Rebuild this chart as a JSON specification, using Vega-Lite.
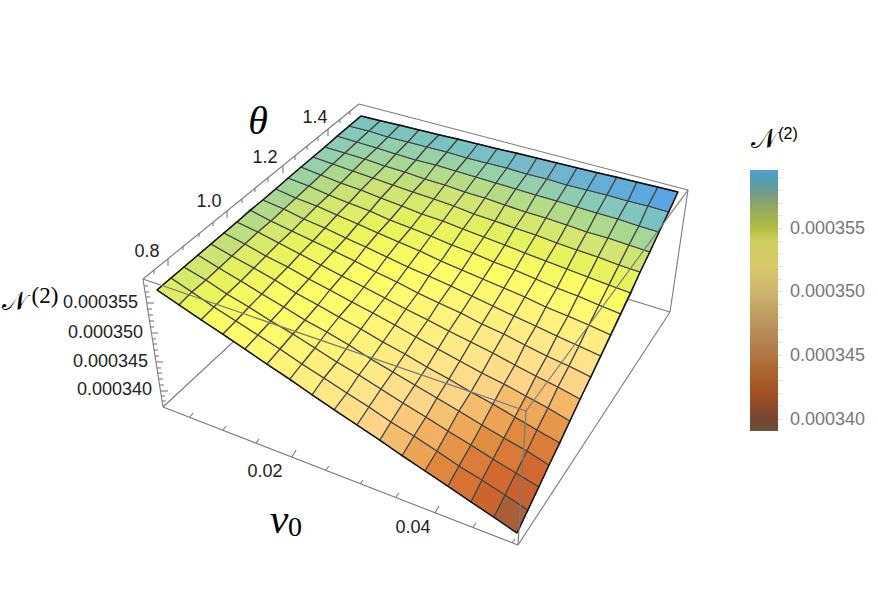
{"$schema":"https://vega.github.io/schema/vega-lite/v6.json","width":878,"height":589,"padding":0,"autosize":"none","background":"white","projection":{"type":"identity","scale":1,"translate":[0,0]},"resolve":{"scale":{"color":"independent"}},"encoding":{},"layer":[
{"data":{"values":[{"a":359,"b":104,"c":143,"d":279},{"a":359,"b":104,"c":688,"d":190},{"a":143,"b":279,"c":163,"d":407},{"a":688,"b":190,"c":670,"d":312},{"a":163,"b":407,"c":518,"d":545},{"a":518,"b":545,"c":670,"d":312},{"a":163,"b":407,"c":366,"d":219},{"a":670,"b":312,"c":366,"d":219},
{"a":154,"b":270,"c":154,"d":274},{"a":168,"b":259,"c":168,"d":266},{"a":183,"b":246,"c":183,"d":250},{"a":199,"b":233,"c":199,"d":237},{"a":213,"b":222,"c":213,"d":226},{"a":227,"b":211,"c":227,"d":218},{"a":242,"b":199,"c":242,"d":203},{"a":255,"b":188,"c":255,"d":192},{"a":268,"b":178,"c":268,"d":182},{"a":283,"b":166,"c":283,"d":173},{"a":295,"b":156,"c":295,"d":160},{"a":307,"b":146,"c":307,"d":150},{"a":318,"b":137,"c":318,"d":141},{"a":328,"b":129,"c":328,"d":136},{"a":340,"b":119,"c":340,"d":123},{"a":350,"b":111,"c":350,"d":115},
{"a":144,"b":286,"c":148,"d":286},{"a":145,"b":292,"c":149,"d":292},{"a":146,"b":297,"c":150,"d":297},{"a":147,"b":303,"c":154,"d":303},{"a":148,"b":309,"c":152,"d":309},{"a":149,"b":315,"c":153,"d":315},{"a":150,"b":321,"c":154,"d":321},{"a":150,"b":327,"c":154,"d":327},{"a":151,"b":333,"c":158,"d":333},{"a":152,"b":339,"c":156,"d":339},{"a":153,"b":344,"c":157,"d":344},{"a":154,"b":350,"c":158,"d":350},{"a":155,"b":356,"c":159,"d":356},{"a":156,"b":362,"c":163,"d":362},{"a":157,"b":368,"c":161,"d":368},{"a":158,"b":373,"c":162,"d":373},{"a":159,"b":379,"c":163,"d":379},{"a":160,"b":385,"c":164,"d":385},{"a":161,"b":391,"c":168,"d":391},{"a":161,"b":396,"c":165,"d":396},{"a":162,"b":401,"c":166,"d":401},
{"a":190,"b":417,"c":193,"d":413},{"a":223,"b":430,"c":226,"d":426},{"a":256,"b":443,"c":259,"d":439},{"a":292,"b":457,"c":296,"d":450},{"a":326,"b":470,"c":329,"d":466},{"a":360,"b":484,"c":363,"d":480},{"a":396,"b":497,"c":399,"d":493},{"a":435,"b":513,"c":439,"d":506},{"a":473,"b":527,"c":476,"d":523},{"a":512,"b":543,"c":515,"d":539}]},"mark":{"type":"rule","color":"#7a7a7a","strokeWidth":1.1},"encoding":{"longitude":{"field":"a","type":"quantitative"},"latitude":{"field":"b","type":"quantitative"},"longitude2":{"field":"c"},"latitude2":{"field":"d"}}},
{"data":{"values":[
{"v":0.0003545,"g":{"type":"Polygon","coordinates":[[[157,290],[179,305],[192,292],[171,278],[157,290]]]}},
{"v":0.0003535,"g":{"type":"Polygon","coordinates":[[[179,305],[201,320],[214,307],[192,292],[179,305]]]}},
{"v":0.0003528,"g":{"type":"Polygon","coordinates":[[[201,320],[223,334],[236,321],[214,307],[201,320]]]}},
{"v":0.0003523,"g":{"type":"Polygon","coordinates":[[[223,334],[245,349],[258,335],[236,321],[223,334]]]}},
{"v":0.0003518,"g":{"type":"Polygon","coordinates":[[[245,349],[267,364],[280,349],[258,335],[245,349]]]}},
{"v":0.0003512,"g":{"type":"Polygon","coordinates":[[[267,364],[290,379],[302,364],[280,349],[267,364]]]}},
{"v":0.0003505,"g":{"type":"Polygon","coordinates":[[[290,379],[312,395],[324,378],[302,364],[290,379]]]}},
{"v":0.0003498,"g":{"type":"Polygon","coordinates":[[[312,395],[334,410],[347,393],[324,378],[312,395]]]}},
{"v":0.000349,"g":{"type":"Polygon","coordinates":[[[334,410],[357,425],[369,407],[347,393],[334,410]]]}},
{"v":0.000348,"g":{"type":"Polygon","coordinates":[[[357,425],[380,440],[391,422],[369,407],[357,425]]]}},
{"v":0.000347,"g":{"type":"Polygon","coordinates":[[[380,440],[402,456],[414,436],[391,422],[380,440]]]}},
{"v":0.000346,"g":{"type":"Polygon","coordinates":[[[402,456],[425,471],[437,451],[414,436],[402,456]]]}},
{"v":0.0003448,"g":{"type":"Polygon","coordinates":[[[425,471],[448,486],[459,466],[437,451],[425,471]]]}},
{"v":0.0003435,"g":{"type":"Polygon","coordinates":[[[448,486],[471,502],[482,480],[459,466],[448,486]]]}},
{"v":0.000342,"g":{"type":"Polygon","coordinates":[[[471,502],[494,517],[505,495],[482,480],[471,502]]]}},
{"v":0.0003402,"g":{"type":"Polygon","coordinates":[[[494,517],[517,533],[528,510],[505,495],[494,517]]]}},
{"v":0.0003548,"g":{"type":"Polygon","coordinates":[[[171,278],[192,292],[206,280],[184,267],[171,278]]]}},
{"v":0.0003538,"g":{"type":"Polygon","coordinates":[[[192,292],[214,307],[227,294],[206,280],[192,292]]]}},
{"v":0.000353,"g":{"type":"Polygon","coordinates":[[[214,307],[236,321],[249,307],[227,294],[214,307]]]}},
{"v":0.0003525,"g":{"type":"Polygon","coordinates":[[[236,321],[258,335],[271,321],[249,307],[236,321]]]}},
{"v":0.000352,"g":{"type":"Polygon","coordinates":[[[258,335],[280,349],[293,334],[271,321],[258,335]]]}},
{"v":0.0003515,"g":{"type":"Polygon","coordinates":[[[280,349],[302,364],[315,348],[293,334],[280,349]]]}},
{"v":0.0003508,"g":{"type":"Polygon","coordinates":[[[302,364],[324,378],[337,362],[315,348],[302,364]]]}},
{"v":0.0003502,"g":{"type":"Polygon","coordinates":[[[324,378],[347,393],[359,375],[337,362],[324,378]]]}},
{"v":0.0003494,"g":{"type":"Polygon","coordinates":[[[347,393],[369,407],[381,389],[359,375],[347,393]]]}},
{"v":0.0003485,"g":{"type":"Polygon","coordinates":[[[369,407],[391,422],[403,403],[381,389],[369,407]]]}},
{"v":0.0003475,"g":{"type":"Polygon","coordinates":[[[391,422],[414,436],[426,417],[403,403],[391,422]]]}},
{"v":0.0003465,"g":{"type":"Polygon","coordinates":[[[414,436],[437,451],[448,431],[426,417],[414,436]]]}},
{"v":0.0003454,"g":{"type":"Polygon","coordinates":[[[437,451],[459,466],[471,445],[448,431],[437,451]]]}},
{"v":0.0003442,"g":{"type":"Polygon","coordinates":[[[459,466],[482,480],[493,459],[471,445],[459,466]]]}},
{"v":0.0003428,"g":{"type":"Polygon","coordinates":[[[482,480],[505,495],[516,473],[493,459],[482,480]]]}},
{"v":0.0003413,"g":{"type":"Polygon","coordinates":[[[505,495],[528,510],[539,487],[516,473],[505,495]]]}},
{"v":0.0003551,"g":{"type":"Polygon","coordinates":[[[184,267],[206,280],[219,268],[198,255],[184,267]]]}},
{"v":0.000354,"g":{"type":"Polygon","coordinates":[[[206,280],[227,294],[241,281],[219,268],[206,280]]]}},
{"v":0.0003532,"g":{"type":"Polygon","coordinates":[[[227,294],[249,307],[262,294],[241,281],[227,294]]]}},
{"v":0.0003527,"g":{"type":"Polygon","coordinates":[[[249,307],[271,321],[284,307],[262,294],[249,307]]]}},
{"v":0.0003522,"g":{"type":"Polygon","coordinates":[[[271,321],[293,334],[305,320],[284,307],[271,321]]]}},
{"v":0.0003518,"g":{"type":"Polygon","coordinates":[[[293,334],[315,348],[327,332],[305,320],[293,334]]]}},
{"v":0.0003512,"g":{"type":"Polygon","coordinates":[[[315,348],[337,362],[349,345],[327,332],[315,348]]]}},
{"v":0.0003506,"g":{"type":"Polygon","coordinates":[[[337,362],[359,375],[371,359],[349,345],[337,362]]]}},
{"v":0.0003499,"g":{"type":"Polygon","coordinates":[[[359,375],[381,389],[393,372],[371,359],[359,375]]]}},
{"v":0.000349,"g":{"type":"Polygon","coordinates":[[[381,389],[403,403],[415,385],[393,372],[381,389]]]}},
{"v":0.0003481,"g":{"type":"Polygon","coordinates":[[[403,403],[426,417],[437,398],[415,385],[403,403]]]}},
{"v":0.0003472,"g":{"type":"Polygon","coordinates":[[[426,417],[448,431],[459,411],[437,398],[426,417]]]}},
{"v":0.0003462,"g":{"type":"Polygon","coordinates":[[[448,431],[471,445],[482,425],[459,411],[448,431]]]}},
{"v":0.0003451,"g":{"type":"Polygon","coordinates":[[[471,445],[493,459],[504,438],[482,425],[471,445]]]}},
{"v":0.000344,"g":{"type":"Polygon","coordinates":[[[493,459],[516,473],[527,451],[504,438],[493,459]]]}},
{"v":0.0003428,"g":{"type":"Polygon","coordinates":[[[516,473],[539,487],[549,465],[527,451],[516,473]]]}},
{"v":0.0003554,"g":{"type":"Polygon","coordinates":[[[198,255],[219,268],[232,256],[211,244],[198,255]]]}},
{"v":0.0003543,"g":{"type":"Polygon","coordinates":[[[219,268],[241,281],[254,268],[232,256],[219,268]]]}},
{"v":0.0003534,"g":{"type":"Polygon","coordinates":[[[241,281],[262,294],[275,280],[254,268],[241,281]]]}},
{"v":0.0003529,"g":{"type":"Polygon","coordinates":[[[262,294],[284,307],[296,293],[275,280],[262,294]]]}},
{"v":0.0003524,"g":{"type":"Polygon","coordinates":[[[284,307],[305,320],[318,305],[296,293],[284,307]]]}},
{"v":0.000352,"g":{"type":"Polygon","coordinates":[[[305,320],[327,332],[339,317],[318,305],[305,320]]]}},
{"v":0.0003515,"g":{"type":"Polygon","coordinates":[[[327,332],[349,345],[361,329],[339,317],[327,332]]]}},
{"v":0.000351,"g":{"type":"Polygon","coordinates":[[[349,345],[371,359],[383,342],[361,329],[349,345]]]}},
{"v":0.0003503,"g":{"type":"Polygon","coordinates":[[[371,359],[393,372],[405,354],[383,342],[371,359]]]}},
{"v":0.0003496,"g":{"type":"Polygon","coordinates":[[[393,372],[415,385],[427,367],[405,354],[393,372]]]}},
{"v":0.0003488,"g":{"type":"Polygon","coordinates":[[[415,385],[437,398],[449,379],[427,367],[415,385]]]}},
{"v":0.000348,"g":{"type":"Polygon","coordinates":[[[437,398],[459,411],[471,392],[449,379],[437,398]]]}},
{"v":0.000347,"g":{"type":"Polygon","coordinates":[[[459,411],[482,425],[493,404],[471,392],[459,411]]]}},
{"v":0.000346,"g":{"type":"Polygon","coordinates":[[[482,425],[504,438],[515,417],[493,404],[482,425]]]}},
{"v":0.000345,"g":{"type":"Polygon","coordinates":[[[504,438],[527,451],[537,430],[515,417],[504,438]]]}},
{"v":0.0003442,"g":{"type":"Polygon","coordinates":[[[527,451],[549,465],[560,443],[537,430],[527,451]]]}},
{"v":0.0003557,"g":{"type":"Polygon","coordinates":[[[211,244],[232,256],[245,244],[224,233],[211,244]]]}},
{"v":0.0003545,"g":{"type":"Polygon","coordinates":[[[232,256],[254,268],[266,256],[245,244],[232,256]]]}},
{"v":0.0003536,"g":{"type":"Polygon","coordinates":[[[254,268],[275,280],[288,267],[266,256],[254,268]]]}},
{"v":0.000353,"g":{"type":"Polygon","coordinates":[[[275,280],[296,293],[309,279],[288,267],[275,280]]]}},
{"v":0.0003526,"g":{"type":"Polygon","coordinates":[[[296,293],[318,305],[330,290],[309,279],[296,293]]]}},
{"v":0.0003522,"g":{"type":"Polygon","coordinates":[[[318,305],[339,317],[352,302],[330,290],[318,305]]]}},
{"v":0.0003518,"g":{"type":"Polygon","coordinates":[[[339,317],[361,329],[373,313],[352,302],[339,317]]]}},
{"v":0.0003513,"g":{"type":"Polygon","coordinates":[[[361,329],[383,342],[395,325],[373,313],[361,329]]]}},
{"v":0.0003507,"g":{"type":"Polygon","coordinates":[[[383,342],[405,354],[416,337],[395,325],[383,342]]]}},
{"v":0.0003501,"g":{"type":"Polygon","coordinates":[[[405,354],[427,367],[438,349],[416,337],[405,354]]]}},
{"v":0.0003494,"g":{"type":"Polygon","coordinates":[[[427,367],[449,379],[460,361],[438,349],[427,367]]]}},
{"v":0.0003487,"g":{"type":"Polygon","coordinates":[[[449,379],[471,392],[482,373],[460,361],[449,379]]]}},
{"v":0.0003479,"g":{"type":"Polygon","coordinates":[[[471,392],[493,404],[504,384],[482,373],[471,392]]]}},
{"v":0.000347,"g":{"type":"Polygon","coordinates":[[[493,404],[515,417],[526,396],[504,384],[493,404]]]}},
{"v":0.0003462,"g":{"type":"Polygon","coordinates":[[[515,417],[537,430],[548,408],[526,396],[515,417]]]}},
{"v":0.0003455,"g":{"type":"Polygon","coordinates":[[[537,430],[560,443],[570,421],[548,408],[537,430]]]}},
{"v":0.000356,"g":{"type":"Polygon","coordinates":[[[224,233],[245,244],[258,232],[237,222],[224,233]]]}},
{"v":0.0003548,"g":{"type":"Polygon","coordinates":[[[245,244],[266,256],[279,243],[258,232],[245,244]]]}},
{"v":0.0003538,"g":{"type":"Polygon","coordinates":[[[266,256],[288,267],[300,254],[279,243],[266,256]]]}},
{"v":0.0003532,"g":{"type":"Polygon","coordinates":[[[288,267],[309,279],[321,265],[300,254],[288,267]]]}},
{"v":0.0003528,"g":{"type":"Polygon","coordinates":[[[309,279],[330,290],[342,276],[321,265],[309,279]]]}},
{"v":0.0003524,"g":{"type":"Polygon","coordinates":[[[330,290],[352,302],[364,287],[342,276],[330,290]]]}},
{"v":0.000352,"g":{"type":"Polygon","coordinates":[[[352,302],[373,313],[385,298],[364,287],[352,302]]]}},
{"v":0.0003516,"g":{"type":"Polygon","coordinates":[[[373,313],[395,325],[406,309],[385,298],[373,313]]]}},
{"v":0.0003511,"g":{"type":"Polygon","coordinates":[[[395,325],[416,337],[428,320],[406,309],[395,325]]]}},
{"v":0.0003506,"g":{"type":"Polygon","coordinates":[[[416,337],[438,349],[449,331],[428,320],[416,337]]]}},
{"v":0.00035,"g":{"type":"Polygon","coordinates":[[[438,349],[460,361],[471,342],[449,331],[438,349]]]}},
{"v":0.0003494,"g":{"type":"Polygon","coordinates":[[[460,361],[482,373],[493,353],[471,342],[460,361]]]}},
{"v":0.0003487,"g":{"type":"Polygon","coordinates":[[[482,373],[504,384],[515,365],[493,353],[482,373]]]}},
{"v":0.000348,"g":{"type":"Polygon","coordinates":[[[504,384],[526,396],[536,376],[515,365],[504,384]]]}},
{"v":0.0003473,"g":{"type":"Polygon","coordinates":[[[526,396],[548,408],[558,387],[536,376],[526,396]]]}},
{"v":0.0003468,"g":{"type":"Polygon","coordinates":[[[548,408],[570,421],[580,399],[558,387],[548,408]]]}},
{"v":0.0003562,"g":{"type":"Polygon","coordinates":[[[237,222],[258,232],[271,221],[250,210],[237,222]]]}},
{"v":0.000355,"g":{"type":"Polygon","coordinates":[[[258,232],[279,243],[292,231],[271,221],[258,232]]]}},
{"v":0.0003541,"g":{"type":"Polygon","coordinates":[[[279,243],[300,254],[313,241],[292,231],[279,243]]]}},
{"v":0.0003535,"g":{"type":"Polygon","coordinates":[[[300,254],[321,265],[334,251],[313,241],[300,254]]]}},
{"v":0.000353,"g":{"type":"Polygon","coordinates":[[[321,265],[342,276],[355,261],[334,251],[321,265]]]}},
{"v":0.0003526,"g":{"type":"Polygon","coordinates":[[[342,276],[364,287],[376,272],[355,261],[342,276]]]}},
{"v":0.0003523,"g":{"type":"Polygon","coordinates":[[[364,287],[385,298],[397,282],[376,272],[364,287]]]}},
{"v":0.0003519,"g":{"type":"Polygon","coordinates":[[[385,298],[406,309],[418,293],[397,282],[385,298]]]}},
{"v":0.0003515,"g":{"type":"Polygon","coordinates":[[[406,309],[428,320],[439,303],[418,293],[406,309]]]}},
{"v":0.0003511,"g":{"type":"Polygon","coordinates":[[[428,320],[449,331],[461,313],[439,303],[428,320]]]}},
{"v":0.0003506,"g":{"type":"Polygon","coordinates":[[[449,331],[471,342],[482,324],[461,313],[449,331]]]}},
{"v":0.00035,"g":{"type":"Polygon","coordinates":[[[471,342],[493,353],[504,334],[482,324],[471,342]]]}},
{"v":0.0003495,"g":{"type":"Polygon","coordinates":[[[493,353],[515,365],[525,345],[504,334],[493,353]]]}},
{"v":0.000349,"g":{"type":"Polygon","coordinates":[[[515,365],[536,376],[547,356],[525,345],[515,365]]]}},
{"v":0.0003484,"g":{"type":"Polygon","coordinates":[[[536,376],[558,387],[569,366],[547,356],[536,376]]]}},
{"v":0.000348,"g":{"type":"Polygon","coordinates":[[[558,387],[580,399],[591,377],[569,366],[558,387]]]}},
{"v":0.0003564,"g":{"type":"Polygon","coordinates":[[[250,210],[271,221],[284,209],[263,200],[250,210]]]}},
{"v":0.0003553,"g":{"type":"Polygon","coordinates":[[[271,221],[292,231],[304,219],[284,209],[271,221]]]}},
{"v":0.0003544,"g":{"type":"Polygon","coordinates":[[[292,231],[313,241],[325,228],[304,219],[292,231]]]}},
{"v":0.0003538,"g":{"type":"Polygon","coordinates":[[[313,241],[334,251],[346,238],[325,228],[313,241]]]}},
{"v":0.0003533,"g":{"type":"Polygon","coordinates":[[[334,251],[355,261],[366,247],[346,238],[334,251]]]}},
{"v":0.0003529,"g":{"type":"Polygon","coordinates":[[[355,261],[376,272],[387,257],[366,247],[355,261]]]}},
{"v":0.0003526,"g":{"type":"Polygon","coordinates":[[[376,272],[397,282],[408,267],[387,257],[376,272]]]}},
{"v":0.0003523,"g":{"type":"Polygon","coordinates":[[[397,282],[418,293],[429,276],[408,267],[397,282]]]}},
{"v":0.0003519,"g":{"type":"Polygon","coordinates":[[[418,293],[439,303],[451,286],[429,276],[418,293]]]}},
{"v":0.0003516,"g":{"type":"Polygon","coordinates":[[[439,303],[461,313],[472,296],[451,286],[439,303]]]}},
{"v":0.0003512,"g":{"type":"Polygon","coordinates":[[[461,313],[482,324],[493,306],[472,296],[461,313]]]}},
{"v":0.0003508,"g":{"type":"Polygon","coordinates":[[[482,324],[504,334],[514,316],[493,306],[482,324]]]}},
{"v":0.0003503,"g":{"type":"Polygon","coordinates":[[[504,334],[525,345],[536,326],[514,316],[504,334]]]}},
{"v":0.0003499,"g":{"type":"Polygon","coordinates":[[[525,345],[547,356],[557,336],[536,326],[525,345]]]}},
{"v":0.0003495,"g":{"type":"Polygon","coordinates":[[[547,356],[569,366],[579,346],[557,336],[547,356]]]}},
{"v":0.0003492,"g":{"type":"Polygon","coordinates":[[[569,366],[591,377],[601,356],[579,346],[569,366]]]}},
{"v":0.0003566,"g":{"type":"Polygon","coordinates":[[[263,200],[284,209],[296,198],[276,189],[263,200]]]}},
{"v":0.0003556,"g":{"type":"Polygon","coordinates":[[[284,209],[304,219],[317,206],[296,198],[284,209]]]}},
{"v":0.0003547,"g":{"type":"Polygon","coordinates":[[[304,219],[325,228],[337,215],[317,206],[304,219]]]}},
{"v":0.0003541,"g":{"type":"Polygon","coordinates":[[[325,228],[346,238],[358,224],[337,215],[325,228]]]}},
{"v":0.0003537,"g":{"type":"Polygon","coordinates":[[[346,238],[366,247],[378,233],[358,224],[346,238]]]}},
{"v":0.0003533,"g":{"type":"Polygon","coordinates":[[[366,247],[387,257],[399,242],[378,233],[366,247]]]}},
{"v":0.000353,"g":{"type":"Polygon","coordinates":[[[387,257],[408,267],[420,251],[399,242],[387,257]]]}},
{"v":0.0003527,"g":{"type":"Polygon","coordinates":[[[408,267],[429,276],[441,261],[420,251],[408,267]]]}},
{"v":0.0003524,"g":{"type":"Polygon","coordinates":[[[429,276],[451,286],[462,270],[441,261],[429,276]]]}},
{"v":0.0003521,"g":{"type":"Polygon","coordinates":[[[451,286],[472,296],[483,279],[462,270],[451,286]]]}},
{"v":0.0003518,"g":{"type":"Polygon","coordinates":[[[472,296],[493,306],[504,288],[483,279],[472,296]]]}},
{"v":0.0003515,"g":{"type":"Polygon","coordinates":[[[493,306],[514,316],[525,297],[504,288],[493,306]]]}},
{"v":0.0003512,"g":{"type":"Polygon","coordinates":[[[514,316],[536,326],[546,307],[525,297],[514,316]]]}},
{"v":0.0003509,"g":{"type":"Polygon","coordinates":[[[536,326],[557,336],[568,316],[546,307],[536,326]]]}},
{"v":0.0003506,"g":{"type":"Polygon","coordinates":[[[557,336],[579,346],[589,325],[568,316],[557,336]]]}},
{"v":0.0003504,"g":{"type":"Polygon","coordinates":[[[579,346],[601,356],[611,335],[589,325],[579,346]]]}},
{"v":0.0003568,"g":{"type":"Polygon","coordinates":[[[276,189],[296,198],[309,186],[288,178],[276,189]]]}},
{"v":0.0003559,"g":{"type":"Polygon","coordinates":[[[296,198],[317,206],[329,195],[309,186],[296,198]]]}},
{"v":0.0003551,"g":{"type":"Polygon","coordinates":[[[317,206],[337,215],[349,203],[329,195],[317,206]]]}},
{"v":0.0003545,"g":{"type":"Polygon","coordinates":[[[337,215],[358,224],[370,211],[349,203],[337,215]]]}},
{"v":0.0003541,"g":{"type":"Polygon","coordinates":[[[358,224],[378,233],[390,220],[370,211],[358,224]]]}},
{"v":0.0003538,"g":{"type":"Polygon","coordinates":[[[378,233],[399,242],[411,228],[390,220],[378,233]]]}},
{"v":0.0003535,"g":{"type":"Polygon","coordinates":[[[399,242],[420,251],[431,236],[411,228],[399,242]]]}},
{"v":0.0003532,"g":{"type":"Polygon","coordinates":[[[420,251],[441,261],[452,245],[431,236],[420,251]]]}},
{"v":0.000353,"g":{"type":"Polygon","coordinates":[[[441,261],[462,270],[473,253],[452,245],[441,261]]]}},
{"v":0.0003527,"g":{"type":"Polygon","coordinates":[[[462,270],[483,279],[494,262],[473,253],[462,270]]]}},
{"v":0.0003525,"g":{"type":"Polygon","coordinates":[[[483,279],[504,288],[515,270],[494,262],[483,279]]]}},
{"v":0.0003523,"g":{"type":"Polygon","coordinates":[[[504,288],[525,297],[536,279],[515,270],[504,288]]]}},
{"v":0.0003521,"g":{"type":"Polygon","coordinates":[[[525,297],[546,307],[557,288],[536,279],[525,297]]]}},
{"v":0.0003519,"g":{"type":"Polygon","coordinates":[[[546,307],[568,316],[578,296],[557,288],[546,307]]]}},
{"v":0.0003517,"g":{"type":"Polygon","coordinates":[[[568,316],[589,325],[599,305],[578,296],[568,316]]]}},
{"v":0.0003516,"g":{"type":"Polygon","coordinates":[[[589,325],[611,335],[621,314],[599,305],[589,325]]]}},
{"v":0.000357,"g":{"type":"Polygon","coordinates":[[[288,178],[309,186],[321,175],[301,167],[288,178]]]}},
{"v":0.0003562,"g":{"type":"Polygon","coordinates":[[[309,186],[329,195],[341,183],[321,175],[309,186]]]}},
{"v":0.0003555,"g":{"type":"Polygon","coordinates":[[[329,195],[349,203],[361,190],[341,183],[329,195]]]}},
{"v":0.000355,"g":{"type":"Polygon","coordinates":[[[349,203],[370,211],[381,198],[361,190],[349,203]]]}},
{"v":0.0003546,"g":{"type":"Polygon","coordinates":[[[370,211],[390,220],[402,206],[381,198],[370,211]]]}},
{"v":0.0003543,"g":{"type":"Polygon","coordinates":[[[390,220],[411,228],[422,214],[402,206],[390,220]]]}},
{"v":0.000354,"g":{"type":"Polygon","coordinates":[[[411,228],[431,236],[443,221],[422,214],[411,228]]]}},
{"v":0.0003538,"g":{"type":"Polygon","coordinates":[[[431,236],[452,245],[463,229],[443,221],[431,236]]]}},
{"v":0.0003536,"g":{"type":"Polygon","coordinates":[[[452,245],[473,253],[484,237],[463,229],[452,245]]]}},
{"v":0.0003534,"g":{"type":"Polygon","coordinates":[[[473,253],[494,262],[505,245],[484,237],[473,253]]]}},
{"v":0.0003532,"g":{"type":"Polygon","coordinates":[[[494,262],[515,270],[525,253],[505,245],[494,262]]]}},
{"v":0.0003531,"g":{"type":"Polygon","coordinates":[[[515,270],[536,279],[546,261],[525,253],[515,270]]]}},
{"v":0.000353,"g":{"type":"Polygon","coordinates":[[[536,279],[557,288],[567,269],[546,261],[536,279]]]}},
{"v":0.0003529,"g":{"type":"Polygon","coordinates":[[[557,288],[578,296],[588,277],[567,269],[557,288]]]}},
{"v":0.0003528,"g":{"type":"Polygon","coordinates":[[[578,296],[599,305],[609,285],[588,277],[578,296]]]}},
{"v":0.0003528,"g":{"type":"Polygon","coordinates":[[[599,305],[621,314],[631,293],[609,285],[599,305]]]}},
{"v":0.0003572,"g":{"type":"Polygon","coordinates":[[[301,167],[321,175],[333,164],[313,157],[301,167]]]}},
{"v":0.0003565,"g":{"type":"Polygon","coordinates":[[[321,175],[341,183],[353,171],[333,164],[321,175]]]}},
{"v":0.000356,"g":{"type":"Polygon","coordinates":[[[341,183],[361,190],[373,178],[353,171],[341,183]]]}},
{"v":0.0003555,"g":{"type":"Polygon","coordinates":[[[361,190],[381,198],[393,185],[373,178],[361,190]]]}},
{"v":0.0003552,"g":{"type":"Polygon","coordinates":[[[381,198],[402,206],[413,192],[393,185],[381,198]]]}},
{"v":0.0003549,"g":{"type":"Polygon","coordinates":[[[402,206],[422,214],[434,199],[413,192],[402,206]]]}},
{"v":0.0003547,"g":{"type":"Polygon","coordinates":[[[422,214],[443,221],[454,206],[434,199],[422,214]]]}},
{"v":0.0003545,"g":{"type":"Polygon","coordinates":[[[443,221],[463,229],[474,214],[454,206],[443,221]]]}},
{"v":0.0003543,"g":{"type":"Polygon","coordinates":[[[463,229],[484,237],[495,221],[474,214],[463,229]]]}},
{"v":0.0003542,"g":{"type":"Polygon","coordinates":[[[484,237],[505,245],[515,228],[495,221],[484,237]]]}},
{"v":0.0003541,"g":{"type":"Polygon","coordinates":[[[505,245],[525,253],[536,235],[515,228],[505,245]]]}},
{"v":0.000354,"g":{"type":"Polygon","coordinates":[[[525,253],[546,261],[557,243],[536,235],[525,253]]]}},
{"v":0.000354,"g":{"type":"Polygon","coordinates":[[[546,261],[567,269],[577,250],[557,243],[546,261]]]}},
{"v":0.000354,"g":{"type":"Polygon","coordinates":[[[567,269],[588,277],[598,257],[577,250],[567,269]]]}},
{"v":0.000354,"g":{"type":"Polygon","coordinates":[[[588,277],[609,285],[619,265],[598,257],[588,277]]]}},
{"v":0.000354,"g":{"type":"Polygon","coordinates":[[[609,285],[631,293],[640,272],[619,265],[609,285]]]}},
{"v":0.0003574,"g":{"type":"Polygon","coordinates":[[[313,157],[333,164],[345,153],[325,147],[313,157]]]}},
{"v":0.0003569,"g":{"type":"Polygon","coordinates":[[[333,164],[353,171],[365,159],[345,153],[333,164]]]}},
{"v":0.0003564,"g":{"type":"Polygon","coordinates":[[[353,171],[373,178],[385,166],[365,159],[353,171]]]}},
{"v":0.000356,"g":{"type":"Polygon","coordinates":[[[373,178],[393,185],[405,172],[385,166],[373,178]]]}},
{"v":0.0003558,"g":{"type":"Polygon","coordinates":[[[393,185],[413,192],[425,179],[405,172],[393,185]]]}},
{"v":0.0003556,"g":{"type":"Polygon","coordinates":[[[413,192],[434,199],[445,185],[425,179],[413,192]]]}},
{"v":0.0003554,"g":{"type":"Polygon","coordinates":[[[434,199],[454,206],[465,192],[445,185],[434,199]]]}},
{"v":0.0003553,"g":{"type":"Polygon","coordinates":[[[454,206],[474,214],[485,198],[465,192],[454,206]]]}},
{"v":0.0003552,"g":{"type":"Polygon","coordinates":[[[474,214],[495,221],[505,205],[485,198],[474,214]]]}},
{"v":0.0003551,"g":{"type":"Polygon","coordinates":[[[495,221],[515,228],[526,212],[505,205],[495,221]]]}},
{"v":0.0003551,"g":{"type":"Polygon","coordinates":[[[515,228],[536,235],[546,218],[526,212],[515,228]]]}},
{"v":0.0003551,"g":{"type":"Polygon","coordinates":[[[536,235],[557,243],[567,225],[546,218],[536,235]]]}},
{"v":0.0003551,"g":{"type":"Polygon","coordinates":[[[557,243],[577,250],[587,232],[567,225],[557,243]]]}},
{"v":0.0003552,"g":{"type":"Polygon","coordinates":[[[577,250],[598,257],[608,238],[587,232],[577,250]]]}},
{"v":0.0003552,"g":{"type":"Polygon","coordinates":[[[598,257],[619,265],[629,245],[608,238],[598,257]]]}},
{"v":0.0003553,"g":{"type":"Polygon","coordinates":[[[619,265],[640,272],[650,252],[629,245],[619,265]]]}},
{"v":0.0003576,"g":{"type":"Polygon","coordinates":[[[325,147],[345,153],[357,142],[337,136],[325,147]]]}},
{"v":0.0003572,"g":{"type":"Polygon","coordinates":[[[345,153],[365,159],[377,148],[357,142],[345,153]]]}},
{"v":0.0003569,"g":{"type":"Polygon","coordinates":[[[365,159],[385,166],[396,154],[377,148],[365,159]]]}},
{"v":0.0003566,"g":{"type":"Polygon","coordinates":[[[385,166],[405,172],[416,160],[396,154],[385,166]]]}},
{"v":0.0003565,"g":{"type":"Polygon","coordinates":[[[405,172],[425,179],[436,165],[416,160],[405,172]]]}},
{"v":0.0003563,"g":{"type":"Polygon","coordinates":[[[425,179],[445,185],[456,171],[436,165],[425,179]]]}},
{"v":0.0003562,"g":{"type":"Polygon","coordinates":[[[445,185],[465,192],[476,177],[456,171],[445,185]]]}},
{"v":0.0003562,"g":{"type":"Polygon","coordinates":[[[465,192],[485,198],[496,183],[476,177],[465,192]]]}},
{"v":0.0003562,"g":{"type":"Polygon","coordinates":[[[485,198],[505,205],[516,189],[496,183],[485,198]]]}},
{"v":0.0003562,"g":{"type":"Polygon","coordinates":[[[505,205],[526,212],[536,195],[516,189],[505,205]]]}},
{"v":0.0003562,"g":{"type":"Polygon","coordinates":[[[526,212],[546,218],[557,201],[536,195],[526,212]]]}},
{"v":0.0003563,"g":{"type":"Polygon","coordinates":[[[546,218],[567,225],[577,207],[557,201],[546,218]]]}},
{"v":0.0003564,"g":{"type":"Polygon","coordinates":[[[567,225],[587,232],[597,213],[577,207],[567,225]]]}},
{"v":0.0003565,"g":{"type":"Polygon","coordinates":[[[587,232],[608,238],[618,219],[597,213],[587,232]]]}},
{"v":0.0003566,"g":{"type":"Polygon","coordinates":[[[608,238],[629,245],[639,226],[618,219],[608,238]]]}},
{"v":0.0003567,"g":{"type":"Polygon","coordinates":[[[629,245],[650,252],[659,232],[639,226],[629,245]]]}},
{"v":0.0003578,"g":{"type":"Polygon","coordinates":[[[337,136],[357,142],[369,131],[349,126],[337,136]]]}},
{"v":0.0003576,"g":{"type":"Polygon","coordinates":[[[357,142],[377,148],[388,137],[369,131],[357,142]]]}},
{"v":0.0003574,"g":{"type":"Polygon","coordinates":[[[377,148],[396,154],[408,142],[388,137],[377,148]]]}},
{"v":0.0003573,"g":{"type":"Polygon","coordinates":[[[396,154],[416,160],[427,147],[408,142],[396,154]]]}},
{"v":0.0003572,"g":{"type":"Polygon","coordinates":[[[416,160],[436,165],[447,152],[427,147],[416,160]]]}},
{"v":0.0003572,"g":{"type":"Polygon","coordinates":[[[436,165],[456,171],[467,158],[447,152],[436,165]]]}},
{"v":0.0003572,"g":{"type":"Polygon","coordinates":[[[456,171],[476,177],[487,163],[467,158],[456,171]]]}},
{"v":0.0003572,"g":{"type":"Polygon","coordinates":[[[476,177],[496,183],[507,168],[487,163],[476,177]]]}},
{"v":0.0003573,"g":{"type":"Polygon","coordinates":[[[496,183],[516,189],[527,174],[507,168],[496,183]]]}},
{"v":0.0003574,"g":{"type":"Polygon","coordinates":[[[516,189],[536,195],[547,179],[527,174],[516,189]]]}},
{"v":0.0003575,"g":{"type":"Polygon","coordinates":[[[536,195],[557,201],[567,185],[547,179],[536,195]]]}},
{"v":0.0003576,"g":{"type":"Polygon","coordinates":[[[557,201],[577,207],[587,190],[567,185],[557,201]]]}},
{"v":0.0003577,"g":{"type":"Polygon","coordinates":[[[577,207],[597,213],[607,195],[587,190],[577,207]]]}},
{"v":0.0003578,"g":{"type":"Polygon","coordinates":[[[597,213],[618,219],[628,201],[607,195],[597,213]]]}},
{"v":0.0003579,"g":{"type":"Polygon","coordinates":[[[618,219],[639,226],[648,206],[628,201],[618,219]]]}},
{"v":0.0003581,"g":{"type":"Polygon","coordinates":[[[639,226],[659,232],[669,212],[648,206],[639,226]]]}},
{"v":0.000358,"g":{"type":"Polygon","coordinates":[[[349,126],[369,131],[380,121],[361,116],[349,126]]]}},
{"v":0.000358,"g":{"type":"Polygon","coordinates":[[[369,131],[388,137],[400,125],[380,121],[369,131]]]}},
{"v":0.000358,"g":{"type":"Polygon","coordinates":[[[388,137],[408,142],[419,130],[400,125],[388,137]]]}},
{"v":0.000358,"g":{"type":"Polygon","coordinates":[[[408,142],[427,147],[439,135],[419,130],[408,142]]]}},
{"v":0.0003581,"g":{"type":"Polygon","coordinates":[[[427,147],[447,152],[458,139],[439,135],[427,147]]]}},
{"v":0.0003581,"g":{"type":"Polygon","coordinates":[[[447,152],[467,158],[478,144],[458,139],[447,152]]]}},
{"v":0.0003582,"g":{"type":"Polygon","coordinates":[[[467,158],[487,163],[497,149],[478,144],[467,158]]]}},
{"v":0.0003583,"g":{"type":"Polygon","coordinates":[[[487,163],[507,168],[517,153],[497,149],[487,163]]]}},
{"v":0.0003584,"g":{"type":"Polygon","coordinates":[[[507,168],[527,174],[537,158],[517,153],[507,168]]]}},
{"v":0.0003585,"g":{"type":"Polygon","coordinates":[[[527,174],[547,179],[557,163],[537,158],[527,174]]]}},
{"v":0.0003587,"g":{"type":"Polygon","coordinates":[[[547,179],[567,185],[577,168],[557,163],[547,179]]]}},
{"v":0.0003588,"g":{"type":"Polygon","coordinates":[[[567,185],[587,190],[597,173],[577,168],[567,185]]]}},
{"v":0.000359,"g":{"type":"Polygon","coordinates":[[[587,190],[607,195],[617,177],[597,173],[587,190]]]}},
{"v":0.0003591,"g":{"type":"Polygon","coordinates":[[[607,195],[628,201],[637,182],[617,177],[607,195]]]}},
{"v":0.0003593,"g":{"type":"Polygon","coordinates":[[[628,201],[648,206],[658,187],[637,182],[628,201]]]}},
{"v":0.0003595,"g":{"type":"Polygon","coordinates":[[[648,206],[669,212],[678,192],[658,187],[648,206]]]}}
]},"mark":{"type":"geoshape","stroke":"#444444","strokeWidth":1.2,"opacity":1},"encoding":{"shape":{"field":"g","type":"geojson"},"color":{"field":"v","type":"quantitative","legend":null,"scale":{"domain":[0.0003391,0.000340,0.000341,0.000343,0.000345,0.0003465,0.000348,0.0003495,0.000351,0.0003525,0.000354,0.0003555,0.0003565,0.0003575,0.0003585,0.0003596],"range":["#6f5a3c","#a35f3a","#c55f30","#d26a30","#e08a3e","#f2b060","#fdd488","#ffe58a","#fff27c","#ffff66","#e8f25c","#cce274","#aed88e","#92cdb0","#78b8cc","#5aa2e4"]}}}},
{"data":{"values":[{"a":157,"b":290,"c":517,"d":533},{"a":517,"b":533,"c":678,"d":192},{"a":678,"b":192,"c":361,"d":116},{"a":361,"b":116,"c":157,"d":290}]},"mark":{"type":"rule","color":"#111111","strokeWidth":1.3},"encoding":{"longitude":{"field":"a","type":"quantitative"},"latitude":{"field":"b","type":"quantitative"},"longitude2":{"field":"c"},"latitude2":{"field":"d"}}},
{"data":{"values":[{"a":143,"b":279,"c":526,"d":411},{"a":526,"b":411,"c":688,"d":190},{"a":526,"b":411,"c":518,"d":545}]},"mark":{"type":"rule","color":"#7a7a7a","strokeWidth":1.2},"encoding":{"longitude":{"field":"a","type":"quantitative"},"latitude":{"field":"b","type":"quantitative"},"longitude2":{"field":"c"},"latitude2":{"field":"d"}}},
{"data":{"values":[{"a":778,"b":177},{"a":778,"b":190},{"a":778,"b":203},{"a":778,"b":215},{"a":778,"b":228},{"a":778,"b":241},{"a":778,"b":253},{"a":778,"b":266},{"a":778,"b":279},{"a":778,"b":291},{"a":778,"b":304},{"a":778,"b":317},{"a":778,"b":329},{"a":778,"b":342},{"a":778,"b":355},{"a":778,"b":367},{"a":778,"b":380},{"a":778,"b":393},{"a":778,"b":405},{"a":778,"b":419}]},"mark":{"type":"text","text":"–","font":"Liberation Sans","fontSize":8,"color":"#cccccc","align":"left","dx":0},"encoding":{"longitude":{"field":"a","type":"quantitative"},"latitude":{"field":"b","type":"quantitative"}}},
{"data":{"values":[{"v":0.0003391},{"v":0.0003596}]},"mark":{"type":"point","size":0,"filled":true,"opacity":1},"encoding":{"color":{"field":"v","type":"quantitative","scale":{"domain":[0.0003391,0.000340,0.000342,0.000344,0.000346,0.000348,0.00035,0.000352,0.000354,0.000355,0.000357,0.000358,0.0003596],"range":["#695439","#784630","#a05023","#ac6932","#b48250","#be9b5f","#cdb46e","#d7c869","#cfcf5f","#b5bd41","#8ca569","#6d9a8f","#5b9bd6"]},"legend":{"orient":"none","legendX":750,"legendY":170,"title":null,"gradientLength":261,"gradientThickness":28,"values":[0.00034,0.000345,0.00035,0.000355],"format":".6f","labelFontSize":18,"labelColor":"#777777","labelFont":"Liberation Sans","labelOffset":12,"gradientStrokeWidth":0}}}},
{"data":{"values":[{"t":"0.000355","x":138,"y":303},{"t":"0.000350","x":143,"y":333},{"t":"0.000345","x":148,"y":362},{"t":"0.000340","x":152,"y":390}]},"mark":{"type":"text","font":"Liberation Sans","fontSize":18,"color":"#222222","align":"right"},"encoding":{"text":{"field":"t"},"longitude":{"field":"x","type":"quantitative"},"latitude":{"field":"y","type":"quantitative"}}},
{"data":{"values":[{"t":"0.8","x":147,"y":252},{"t":"1.0","x":209,"y":202},{"t":"1.2","x":265,"y":158},{"t":"1.4","x":315,"y":118},{"t":"0.02","x":265,"y":472},{"t":"0.04","x":413,"y":528}]},"mark":{"type":"text","font":"Liberation Sans","fontSize":18,"color":"#222222"},"encoding":{"text":{"field":"t"},"longitude":{"field":"x","type":"quantitative"},"latitude":{"field":"y","type":"quantitative"}}},
{"data":{"values":[{"t":"𝒩","x":14,"y":302}]},"mark":{"type":"text","font":"DejaVu Serif","fontSize":26,"color":"black"},"encoding":{"text":{"field":"t"},"longitude":{"field":"x","type":"quantitative"},"latitude":{"field":"y","type":"quantitative"}}},
{"data":{"values":[{"t":"𝒩","x":764,"y":140}]},"mark":{"type":"text","font":"DejaVu Serif","fontSize":27,"color":"black"},"encoding":{"text":{"field":"t"},"longitude":{"field":"x","type":"quantitative"},"latitude":{"field":"y","type":"quantitative"}}},
{"data":{"values":[{"t":"(2)","x":45,"y":296}]},"mark":{"type":"text","font":"Liberation Serif","fontSize":23,"color":"black"},"encoding":{"text":{"field":"t"},"longitude":{"field":"x","type":"quantitative"},"latitude":{"field":"y","type":"quantitative"}}},
{"data":{"values":[{"t":"(2)","x":788,"y":134}]},"mark":{"type":"text","font":"Liberation Sans","fontSize":16,"color":"black"},"encoding":{"text":{"field":"t"},"longitude":{"field":"x","type":"quantitative"},"latitude":{"field":"y","type":"quantitative"}}},
{"data":{"values":[{"t":"θ","x":258,"y":122}]},"mark":{"type":"text","font":"Liberation Serif","fontStyle":"italic","fontSize":40,"color":"black"},"encoding":{"text":{"field":"t"},"longitude":{"field":"x","type":"quantitative"},"latitude":{"field":"y","type":"quantitative"}}},
{"data":{"values":[{"t":"v","x":279,"y":520}]},"mark":{"type":"text","font":"Liberation Serif","fontStyle":"italic","fontSize":42,"color":"black"},"encoding":{"text":{"field":"t"},"longitude":{"field":"x","type":"quantitative"},"latitude":{"field":"y","type":"quantitative"}}},
{"data":{"values":[{"t":"0","x":295,"y":528}]},"mark":{"type":"text","font":"Liberation Serif","fontSize":28,"color":"black"},"encoding":{"text":{"field":"t"},"longitude":{"field":"x","type":"quantitative"},"latitude":{"field":"y","type":"quantitative"}}}
]}
